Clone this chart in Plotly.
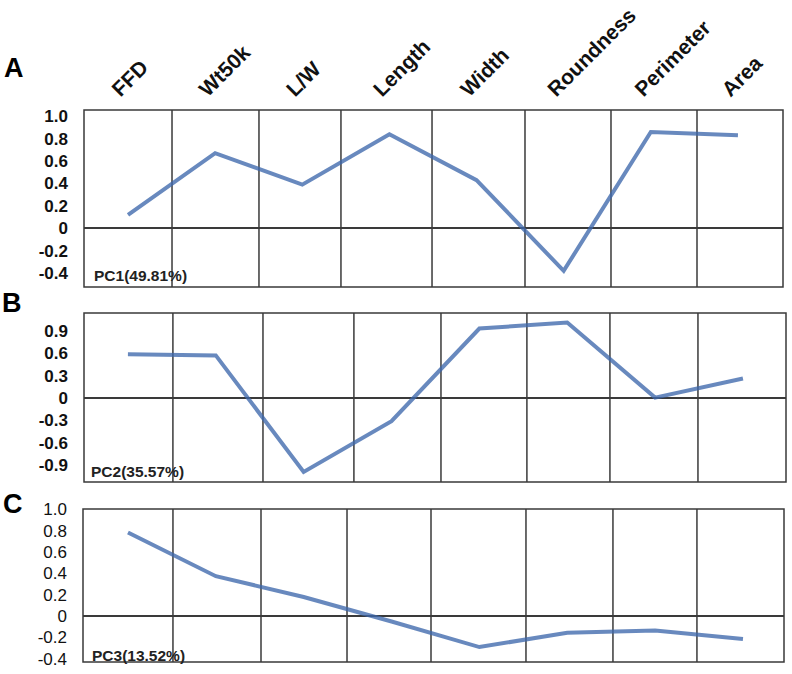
import plotly.graph_objects as go

# ---------------- data ----------------
categories = ["FFD", "Wt50k", "L/W", "Length", "Width", "Roundness", "Perimeter", "Area"]
pc1 = [0.12, 0.67, 0.39, 0.84, 0.43, -0.38, 0.86, 0.83]
pc2 = [0.585, 0.57, -0.99, -0.31, 0.93, 1.01, 0.005, 0.26]
pc3 = [0.785, 0.375, 0.18, -0.05, -0.29, -0.155, -0.135, -0.215]
pc_labels = ["PC1(49.81%)", "PC2(35.57%)", "PC3(13.52%)"]
panel_letters = ["A", "B", "C"]
yticks_ac = [-0.4, -0.2, 0, 0.2, 0.4, 0.6, 0.8, 1.0]
yticks_b = [-0.9, -0.6, -0.3, 0, 0.3, 0.6, 0.9]

# ---------------- layout constants ----------------
W, H = 792, 674
FONT = "Arial, Liberation Sans, sans-serif"
LINE_COLOR = "rgba(62,104,172,0.78)"
GRID_COLOR = "#3a3a3a"

def px_x(v):
    return v / W

def px_y(v):
    return 1 - v / H

# panel boxes in window pixels: (left, right, top, bottom)
boxes = [(84, 783, 110, 287), (84, 786, 313, 482), (83, 784, 509, 662)]
xranges = [[-0.505, 7.517], [-0.50, 7.49], [-0.512, 7.467]]
yranges = [[-0.524, 1.056], [-1.125, 1.138], [-0.43, 1.005]]
# vertical separators between categories (category-index units)
grids = [
    [0.505, 1.503, 2.444, 3.489, 4.556, 5.543, 6.530],
    [0.512, 1.537, 2.572, 3.563, 4.541, 5.486, 6.488],
    [0.512, 1.514, 2.493, 3.449, 4.530, 5.520, 6.476],
]
letter_pos = [(14, 68), (12, 303), (13, 504)]
label_pos = [(92, 275), (89, 471), (90, 655)]
LABEL_SHIFT = 0.17  # shift of the category-label axis (category units)

def fmt(v):
    return "0" if v == 0 else f"{v:.1f}"

series = [pc1, pc2, pc3]
fig = go.Figure()
layout = dict(
    width=W, height=H, autosize=False,
    margin=dict(l=0, r=0, t=0, b=0, pad=0),
    paper_bgcolor="white", plot_bgcolor="white",
    showlegend=False,
    font=dict(family=FONT, color="#111"),
)
shapes = []
annotations = []

for i in range(3):
    sx = "" if i == 0 else str(i + 1)
    l, r, t, b = boxes[i]
    fig.add_trace(go.Scatter(
        x=categories, y=series[i], mode="lines",
        line=dict(color=LINE_COLOR, width=4),
        xaxis="x" + sx, yaxis="y" + sx, hoverinfo="skip",
    ))
    xa = dict(
        domain=[px_x(l), px_x(r)], range=xranges[i], type="category",
        anchor="y" + sx, showgrid=False, zeroline=False, automargin=False,
        showline=False, ticks="", fixedrange=True, showticklabels=False,
    )
    yt = yticks_b if i == 1 else yticks_ac
    ya = dict(
        domain=[px_y(b), px_y(t)], range=yranges[i],
        anchor="x" + sx, showgrid=False, automargin=False,
        zeroline=True, zerolinecolor=GRID_COLOR, zerolinewidth=1.5,
        showline=False, tickvals=yt, ticktext=[fmt(v) for v in yt], ticks="",
        ticklabelstandoff=15, ticklabeloverflow="allow", fixedrange=True,
        tickfont=dict(family=FONT, size=17, color="#111",
                      weight="normal" if i == 2 else "bold"),
    )
    layout["xaxis" + sx] = xa
    layout["yaxis" + sx] = ya
    # panel frame
    shapes.append(dict(type="rect", xref="x" + sx + " domain", yref="y" + sx + " domain",
                       x0=0, x1=1, y0=0, y1=1, layer="below",
                       line=dict(color=GRID_COLOR, width=1.5)))
    for g in grids[i]:
        shapes.append(dict(type="line", xref="x" + sx, yref="y" + sx + " domain",
                           x0=g, x1=g, y0=0, y1=1, layer="below",
                           line=dict(color=GRID_COLOR, width=1.5)))
    lx, ly = letter_pos[i]
    annotations.append(dict(text="<b>" + panel_letters[i] + "</b>", xref="paper", yref="paper",
                            x=px_x(lx), y=px_y(ly), xanchor="center", yanchor="middle",
                            showarrow=False, font=dict(family=FONT, size=27, color="#000")))
    px, py = label_pos[i]
    annotations.append(dict(text="<b>" + pc_labels[i] + "</b>", xref="paper", yref="paper",
                            x=px_x(px), y=px_y(py), xanchor="left", yanchor="middle",
                            showarrow=False, font=dict(family=FONT, size=15.5, color="#222")))

# category labels: an auxiliary top axis over panel A
l, r, t, b = boxes[0]
fig.add_trace(go.Scatter(x=categories, y=[None] * len(categories), mode="lines",
                         xaxis="x4", yaxis="y", hoverinfo="skip"))
layout["xaxis4"] = dict(
    domain=[px_x(l), px_x(r)], type="category", overlaying="x", anchor="y",
    range=[xranges[0][0] + LABEL_SHIFT, xranges[0][1] + LABEL_SHIFT],
    side="top", tickangle=-45, showticklabels=True, showgrid=False, zeroline=False,
    showline=False, ticks="", automargin=False, fixedrange=True, ticklabelstandoff=4,
    ticklabeloverflow="allow",
    tickfont=dict(family=FONT, size=21, color="#111", weight="bold"),
)

layout["shapes"] = shapes
layout["annotations"] = annotations
fig.update_layout(**layout)
fig.write_html(
    "out.html",
    config={"displayModeBar": False},
    post_script="document.body.style.margin='0';document.body.style.overflow='hidden';",
)
